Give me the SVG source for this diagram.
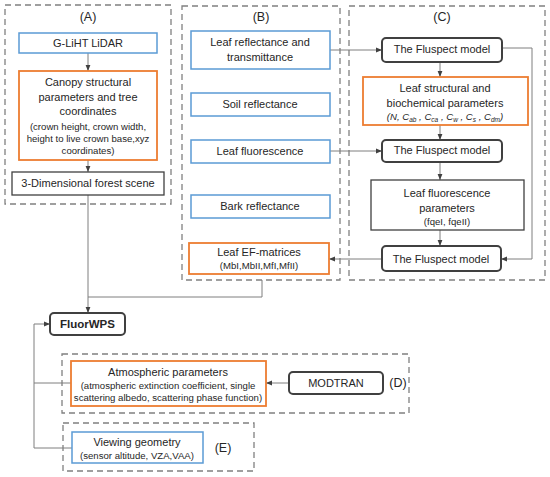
<svg xmlns="http://www.w3.org/2000/svg" width="550" height="477" viewBox="0 0 550 477">
<defs>
<style>
text{font-family:"Liberation Sans",Arial,sans-serif;fill:#262626;text-anchor:middle}
.t{font-size:11px}
.s{font-size:9.6px}
.lab{font-size:12.5px}
.grp{fill:none;stroke:#808080;stroke-width:1.3;stroke-dasharray:6,4}
.blue{fill:#fff;stroke:#5b9bd5;stroke-width:1.5}
.orange{fill:#fff;stroke:#ed7d31;stroke-width:1.8}
.dark{fill:#fff;stroke:#404040;stroke-width:1.3}
.model{fill:#fff;stroke:#404040;stroke-width:2}
.c{fill:none;stroke:#7f7f7f;stroke-width:1}
</style>
<marker id="ah" viewBox="0 0 10 10" refX="10" refY="5" markerWidth="6" markerHeight="6" orient="auto" markerUnits="userSpaceOnUse">
<path d="M0,1 L10,5 L0,9 Z" fill="#404040"/>
</marker>
</defs>
<rect width="550" height="477" fill="#fff"/>

<g id="groups">
<rect id="groupA" class="grp" x="5" y="5" width="166" height="199"/>
<rect id="groupB" class="grp" x="182" y="6" width="158" height="274"/>
<rect id="groupC" class="grp" x="349" y="6" width="196" height="274"/>
<rect id="groupD" class="grp" x="62" y="354" width="347" height="59"/>
<rect id="groupE" class="grp" x="63" y="423" width="191" height="48"/>
<text class="lab" x="88" y="21">(A)</text>
<text class="lab" x="261" y="21">(B)</text>
<text class="lab" x="442" y="21">(C)</text>
<text class="lab" x="398" y="387">(D)</text>
<text class="lab" x="223" y="452">(E)</text>
</g>

<g id="connectors">
<line class="c" x1="88" y1="53" x2="88" y2="71" marker-end="url(#ah)"/>
<line class="c" x1="88" y1="160" x2="88" y2="172" marker-end="url(#ah)"/>
<line class="c" x1="88" y1="195" x2="88" y2="313" marker-end="url(#ah)"/>
<polyline class="c" points="262,280 262,297 88,297"/>
<line class="c" x1="330" y1="50" x2="382" y2="50" marker-end="url(#ah)"/>
<line class="c" x1="330" y1="151" x2="382" y2="151" marker-end="url(#ah)"/>
<line class="c" x1="440" y1="62" x2="440" y2="77" marker-end="url(#ah)"/>
<line class="c" x1="440" y1="125" x2="440" y2="140" marker-end="url(#ah)"/>
<line class="c" x1="440" y1="162" x2="440" y2="180" marker-end="url(#ah)"/>
<line class="c" x1="440" y1="230" x2="440" y2="246" marker-end="url(#ah)"/>
<polyline class="c" points="502,48 532,48 532,259 501,259" marker-end="url(#ah)"/>
<line class="c" x1="382" y1="259" x2="329" y2="259" marker-end="url(#ah)"/>
<line class="c" x1="289" y1="383" x2="266" y2="383" marker-end="url(#ah)"/>
<polyline class="c" points="72,448 34,448 34,324 50,324" marker-end="url(#ah)"/>
<line class="c" x1="34" y1="383" x2="71" y2="383"/>
</g>

<g id="glidar">
<rect class="blue" x="19" y="33" width="138" height="20"/>
<text class="t" x="88" y="47">G-LiHT  LiDAR</text>
</g>
<g id="canopy">
<rect class="orange" x="19" y="71" width="138" height="89"/>
<text class="t" x="88" y="86">Canopy structural</text>
<text class="t" x="88" y="101">parameters and tree</text>
<text class="t" x="88" y="115">coordinates</text>
<text class="s" x="88" y="130">(crown height, crown width,</text>
<text class="s" x="88" y="142">height to live crown base,xyz</text>
<text class="s" x="88" y="154">coordinates)</text>
</g>
<g id="scene">
<rect class="dark" x="12" y="172" width="152" height="23"/>
<text class="t" x="88" y="187">3-Dimensional forest scene</text>
</g>

<g id="leafrt">
<rect class="blue" x="191" y="31" width="139" height="38"/>
<text class="t" x="260" y="46">Leaf reflectance and</text>
<text class="t" x="260" y="61">transmittance</text>
</g>
<g id="soil">
<rect class="blue" x="191" y="93" width="139" height="23"/>
<text class="t" x="260" y="108">Soil reflectance</text>
</g>
<g id="leaffluo">
<rect class="blue" x="191" y="140" width="139" height="23"/>
<text class="t" x="260" y="155">Leaf fluorescence</text>
</g>
<g id="bark">
<rect class="blue" x="191" y="195" width="139" height="23"/>
<text class="t" x="260" y="210">Bark reflectance</text>
</g>
<g id="efm">
<rect class="orange" x="189" y="243" width="140" height="31"/>
<text class="t" x="259" y="256">Leaf  EF-matrices</text>
<text class="s" x="259" y="269">(MbI,MbII,MfI,MfII)</text>
</g>

<g id="fluspect1">
<rect class="model" x="382" y="38" width="120" height="24" rx="4"/>
<text class="t" x="442" y="53">The Fluspect model</text>
</g>
<g id="leafstruct">
<rect class="orange" x="363" y="77" width="165" height="48"/>
<text class="t" x="445" y="92">Leaf structural and</text>
<text class="t" x="445" y="107">biochemical parameters</text>
<text class="s" x="445" y="120" font-style="italic">(N, C<tspan font-size="6.5" dy="2">ab</tspan><tspan dy="-2"> , C</tspan><tspan font-size="6.5" dy="2">ca</tspan><tspan dy="-2"> , C</tspan><tspan font-size="6.5" dy="2">w</tspan><tspan dy="-2"> , C</tspan><tspan font-size="6.5" dy="2">s</tspan><tspan dy="-2"> , C</tspan><tspan font-size="6.5" dy="2">dm</tspan><tspan dy="-2">)</tspan></text>
</g>
<g id="fluspect2">
<rect class="model" x="382" y="140" width="120" height="22" rx="4"/>
<text class="t" x="442" y="154">The Fluspect model</text>
</g>
<g id="fluoparams">
<rect class="dark" x="371" y="180" width="153" height="50"/>
<text class="t" x="447" y="197">Leaf fluorescence</text>
<text class="t" x="447" y="212">parameters</text>
<text class="s" x="447" y="225">(fqeI, fqeII)</text>
</g>
<g id="fluspect3">
<rect class="model" x="382" y="246" width="119" height="25" rx="4"/>
<text class="t" x="441" y="263">The Fluspect model</text>
</g>

<g id="fluorwps">
<rect class="model" x="50" y="313" width="75" height="22" rx="4"/>
<text x="87.5" y="328" font-size="11.5" font-weight="bold">FluorWPS</text>
</g>

<g id="atmos">
<rect class="orange" x="71" y="361" width="195" height="45"/>
<text class="t" x="168" y="376">Atmospheric parameters</text>
<text class="s" x="168" y="389">(atmospheric extinction coefficient, single</text>
<text class="s" x="168" y="401">scattering albedo, scattering phase function)</text>
</g>
<g id="modtran">
<rect class="model" x="289" y="372" width="94" height="22" rx="4"/>
<text class="t" x="336" y="387">MODTRAN</text>
</g>
<g id="viewing">
<rect class="blue" x="72" y="432" width="131" height="31"/>
<text class="t" x="137" y="446">Viewing geometry</text>
<text class="s" x="137" y="459">(sensor altitude, VZA,VAA)</text>
</g>
</svg>
